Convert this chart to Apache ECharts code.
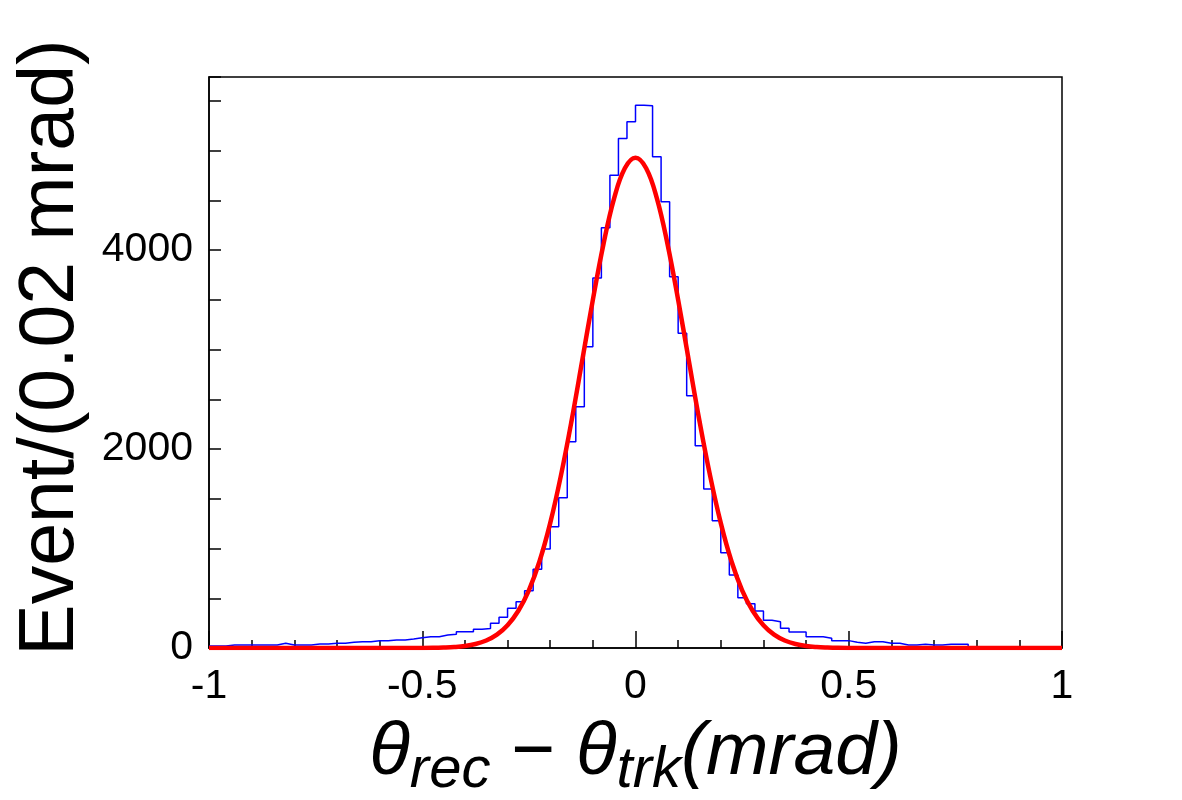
<!DOCTYPE html>
<html>
<head>
<meta charset="utf-8">
<script src="https://cdn.jsdelivr.net/npm/echarts@6/dist/echarts.min.js"></script>
<style>
html,body{margin:0;padding:0;background:#fff;}
#main{width:1182px;height:800px;}
</style>
</head>
<body>
<div id="main"></div>
<script>
// histogram, 100 bins of 0.02 mrad from -1 to 1
var binLow = -1;
var binWidth = 0.02;
var counts = [
    20, 20, 30, 30, 30, 30, 30, 30, 47, 30,
    30, 30, 40, 40, 47, 47, 57, 63, 63, 74,
    74, 80, 80, 90, 104, 114, 114, 131, 137, 164,
    164, 188, 195, 250, 308, 399, 466, 576, 791, 995,
    1219, 1511, 2073, 2425, 3028, 3720, 4225, 4753, 5122, 5290,
    5457, 5450, 4938, 4486, 3732, 3163, 2536, 2033, 1598, 1280,
    958, 734, 506, 445, 372, 278, 265, 198, 160, 160,
    114, 114, 97, 74, 74, 57, 47, 63, 63, 47,
    47, 30, 30, 37, 30, 30, 37, 37, 37, 13,
    13, 13, 13, 13, 13, 13, 13, 13, 13, 13
];

// gaussian fit (red)
var fitX = [-1, -0.9, -0.8, -0.7, -0.6, -0.5, -0.475, -0.45, -0.425, -0.4, -0.375, -0.35, -0.325, -0.3, -0.275, -0.25, -0.225, -0.2, -0.175, -0.15, -0.125, -0.1, -0.075, -0.05, -0.025,
    0, 0.025, 0.05, 0.075, 0.1, 0.125, 0.15, 0.175, 0.2, 0.225, 0.25, 0.275, 0.3, 0.325, 0.35, 0.375, 0.4, 0.425, 0.45, 0.475, 0.5, 0.6, 0.7, 0.8, 0.9, 1];
var fitY = [0, 0, 0, 0, 0, 1, 2, 5, 10, 20, 40, 75, 134, 229, 372, 580, 872, 1255, 1730, 2282, 2888, 3500, 4062, 4522, 4822,
    4928, 4822, 4522, 4062, 3500, 2888, 2282, 1730, 1255, 872, 580, 372, 229, 134, 75, 40, 20, 10, 5, 2, 1, 0, 0, 0, 0, 0];

var xLabels = ['-1', '-0.5', '0', '0.5', '1'];
var yLabels = ['0', '2000', '4000'];

var histData = [];
for (var i = 0; i < counts.length; i++) {
    histData.push([binLow + i * binWidth, counts[i]]);
}
histData.push([binLow + counts.length * binWidth, counts[counts.length - 1]]);

var fitData = [];
for (var j = 0; j < fitX.length; j++) {
    fitData.push([fitX[j], fitY[j]]);
}

var font = 'Liberation Sans, Arial, Helvetica, sans-serif';

var chart = echarts.init(document.getElementById('main'), null, {renderer: 'canvas'});
chart.setOption({
    animation: false,
    backgroundColor: '#fff',
    grid: {left: 209, right: 120, top: 77, bottom: 152, outerBoundsMode: 'none', containLabel: false,
        show: true, borderColor: '#000', borderWidth: 1.5, backgroundColor: 'transparent'},
    xAxis: [{
        type: 'value', min: -1, max: 1, interval: 0.1, position: 'bottom',
        axisLine: {show: true, onZero: false, lineStyle: {color: '#000', width: 1.5}},
        axisTick: {show: true, inside: true, length: 8, lineStyle: {color: '#000', width: 1.5}},
        splitLine: {show: false},
        axisLabel: {
            fontFamily: font, fontSize: 41, color: '#000', margin: 18,
            formatter: function (v) {
                var s = String(+v.toFixed(2));
                return xLabels.indexOf(s) >= 0 ? s : '';
            }
        },
        name: '{t|θ}{s|rec}{m| − }{t|θ}{s|trk}{t|(mrad)}',
        nameLocation: 'middle', nameGap: 68, nameMoveOverlap: false,
        nameTextStyle: {
            rich: {
                t: {fontFamily: font, fontStyle: 'italic', fontSize: 75, color: '#000', lineHeight: 80, verticalAlign: 'top'},
                m: {fontFamily: font, fontSize: 75, color: '#000', lineHeight: 80, verticalAlign: 'top'},
                s: {fontFamily: font, fontStyle: 'italic', fontSize: 58, color: '#000', lineHeight: 84, verticalAlign: 'bottom'}
            }
        }
    }, {
        // longer ticks at the labelled values
        type: 'value', min: -1, max: 1, interval: 0.5, position: 'bottom',
        axisLine: {show: false, onZero: false},
        axisTick: {show: true, inside: true, length: 17, lineStyle: {color: '#000', width: 1.5}},
        axisLabel: {show: false},
        splitLine: {show: false}
    }],
    yAxis: {
        type: 'value', min: 0, max: 5740, interval: 500,
        axisLine: {show: true, onZero: false, lineStyle: {color: '#000', width: 1.5}},
        axisTick: {show: true, inside: true, length: 12, lineStyle: {color: '#000', width: 1.5}},
        splitLine: {show: false},
        axisLabel: {
            fontFamily: font, fontSize: 41, color: '#000', margin: 16,
            formatter: function (v) {
                var s = String(v);
                return yLabels.indexOf(s) >= 0 ? s : '';
            }
        },
        name: 'Event/(0.02 mrad)',
        nameLocation: 'middle', nameGap: 119, nameMoveOverlap: false,
        nameTextStyle: {fontFamily: font, fontSize: 77, color: '#000', lineHeight: 77, padding: [0, 0, 0, 30]}
    },
    series: [{
        type: 'line', data: histData, step: 'end', xAxisIndex: 0,
        showSymbol: false, silent: true,
        lineStyle: {color: '#0000ff', width: 1.5}
    }, {
        type: 'line', data: fitData, smooth: 0.4, xAxisIndex: 0,
        showSymbol: false, silent: true,
        lineStyle: {color: '#ff0000', width: 4.5}
    }]
});
</script>
</body>
</html>
